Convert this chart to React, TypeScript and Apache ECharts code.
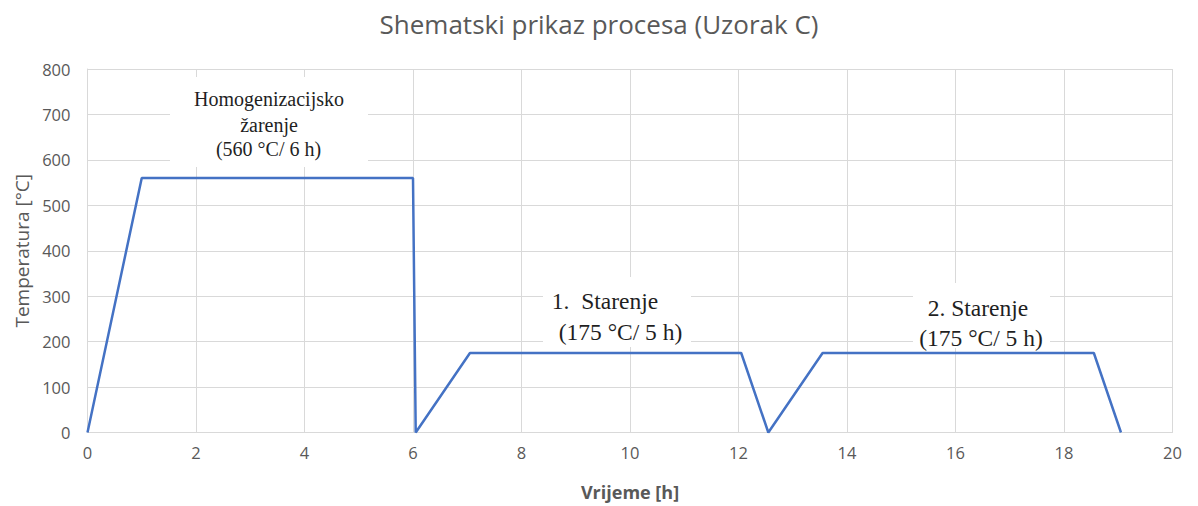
import React, { useEffect, useRef } from "react";
import * as echarts from "echarts";

const timeHours = [0, 1, 6, 6.05, 7.05, 12.05, 12.55, 13.55, 18.55, 19.05];
const temperatures = [0, 560, 560, 0, 175, 175, 0, 175, 175, 0];
const titleText = "Shematski prikaz procesa (Uzorak C)";
const xAxisName = "Vrijeme [h]";
const yAxisName = "Temperatura [°C]";
const annotationBoxes = [
  { x: 170, y: 77, w: 198, h: 90 },
  { x: 543, y: 277, w: 148, h: 70 },
  { x: 913, y: 283, w: 137, h: 65 },
];
const annotationLines = [
  { text: "Homogenizacijsko", cx: 269, cy: 98.5, size: 20 },
  { text: "žarenje", cx: 269, cy: 124.5, size: 20 },
  { text: "(560 °C/ 6 h)", cx: 268.5, cy: 148.5, size: 20 },
  { text: "1.  Starenje", cx: 605, cy: 301, size: 23.5 },
  { text: "(175 °C/ 5 h)", cx: 620.5, cy: 332, size: 23.5 },
  { text: "2. Starenje", cx: 978, cy: 308, size: 23.5 },
  { text: "(175 °C/ 5 h)", cx: 981, cy: 338, size: 23.5 },
];

export default function App() {
  const ref = useRef<HTMLDivElement>(null);
  useEffect(() => {
    if (!ref.current) return;
    const chart = echarts.init(ref.current, null, { renderer: "svg" });
    const data = timeHours.map((t, i) => [t, temperatures[i]]);
    const font = "'Open Sans', sans-serif";
    const graphics: any[] = [];
    annotationBoxes.forEach((b) => {
      graphics.push({
        type: "rect",
        shape: { x: b.x, y: b.y, width: b.w, height: b.h },
        style: { fill: "#ffffff" },
        z: 100,
      });
    });
    annotationLines.forEach((l) => {
      graphics.push({
        type: "text",
        x: l.cx,
        y: l.cy,
        style: {
          text: l.text,
          fill: "#1f1f1f",
          font: `${l.size}px 'Liberation Serif', serif`,
          align: "center",
          verticalAlign: "middle",
        },
        z: 101,
      });
    });
    chart.setOption({
      animation: false,
      title: {
        text: titleText,
        left: "center",
        top: 6,
        textStyle: { fontFamily: font, fontSize: 26, fontWeight: "normal", color: "#595959" },
      },
      grid: { left: 87.5, right: 25.5, top: 69, bottom: 73.5, containLabel: false },
      xAxis: {
        type: "value",
        min: 0,
        max: 20,
        interval: 2,
        name: xAxisName,
        nameLocation: "middle",
        nameGap: 50,
        nameTextStyle: { fontFamily: font, fontSize: 18, fontWeight: "bold", color: "#595959" },
        axisLine: { show: true, lineStyle: { color: "#D9D9D9", width: 1 } },
        axisTick: { show: false },
        axisLabel: { fontFamily: font, fontSize: 16.5, color: "#595959", margin: 11 },
        splitLine: { show: true, lineStyle: { color: "#D9D9D9", width: 1 } },
      },
      yAxis: {
        type: "value",
        min: 0,
        max: 800,
        interval: 100,
        name: yAxisName,
        nameLocation: "middle",
        nameGap: 56,
        nameTextStyle: { fontFamily: font, fontSize: 19, color: "#595959" },
        axisLine: { show: true, lineStyle: { color: "#D9D9D9", width: 1 } },
        axisTick: { show: false },
        axisLabel: { fontFamily: font, fontSize: 16.5, color: "#595959", margin: 17 },
        splitLine: { show: true, lineStyle: { color: "#D9D9D9", width: 1 } },
      },
      series: [
        {
          type: "line",
          data,
          symbol: "none",
          lineStyle: { color: "#4472C4", width: 2.5 },
          z: 3,
        },
      ],
      graphic: graphics,
    });
    return () => chart.dispose();
  }, []);
  return (
    <div
      ref={ref}
      style={{ position: "fixed", left: 0, top: 0, width: 1198, height: 506, background: "#fff" }}
    />
  );
}
